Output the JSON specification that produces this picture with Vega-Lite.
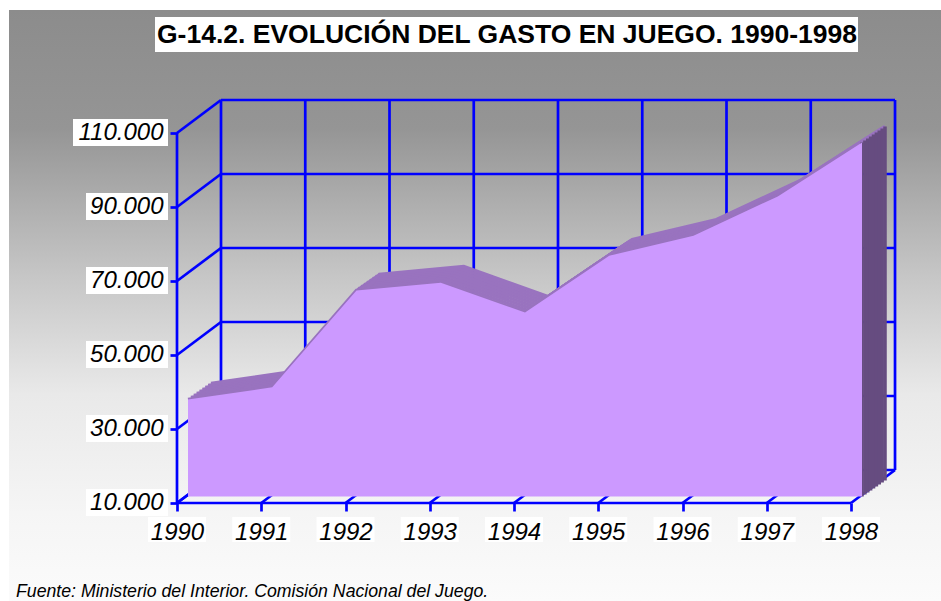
{
  "$schema": "https://vega.github.io/schema/vega-lite/v6.json",
  "width": 932,
  "height": 591,
  "autosize": {"type": "none"},
  "padding": {"left": 9, "top": 10, "right": 0, "bottom": 0},
  "background": "#ffffff",
  "view": {
    "stroke": null,
    "fill": {
      "gradient": "linear", "x1": 0, "y1": 0, "x2": 0, "y2": 1,
      "stops": [
        {"offset": 0, "color": "#8c8c8c"},
        {"offset": 0.2, "color": "#959595"},
        {"offset": 0.45, "color": "#c6c6c6"},
        {"offset": 0.65, "color": "#e9e9e9"},
        {"offset": 0.85, "color": "#f5f5f5"},
        {"offset": 1, "color": "#fbfbfb"}
      ]
    }
  },
  "datasets": {
    "vals": [
      {"year": 1990, "gasto": 36200},
      {"year": 1991, "gasto": 39500},
      {"year": 1992, "gasto": 65700},
      {"year": 1993, "gasto": 67800},
      {"year": 1994, "gasto": 59700},
      {"year": 1995, "gasto": 75100},
      {"year": 1996, "gasto": 80500},
      {"year": 1997, "gasto": 91100},
      {"year": 1998, "gasto": 105700}
    ],
    "ticks": [
      {"v": 10000}, {"v": 30000}, {"v": 50000}, {"v": 70000}, {"v": 90000}, {"v": 110000}
    ],
    "one": [{"k": 1}]
  },
  "data": {"name": "vals"},
  "layer": [
    {
      "data": {"name": "ticks"},
      "mark": {"type": "rule", "color": "#0000ff", "strokeWidth": 2.7, "xOffset": 44, "x2Offset": 44, "yOffset": -33, "y2Offset": -33},
      "encoding": {
        "x": {"datum": 1990, "type": "quantitative"}, "x2": {"datum": 1998},
        "y": {"field": "v", "type": "quantitative"}, "y2": {"field": "v"}
      }
    },
    {
      "mark": {"type": "rule", "color": "#0000ff", "strokeWidth": 2.7, "xOffset": 44, "x2Offset": 44, "yOffset": -33, "y2Offset": -33},
      "encoding": {
        "x": {"field": "year", "type": "quantitative"}, "x2": {"field": "year"},
        "y": {"datum": 10000, "type": "quantitative"}, "y2": {"datum": 110000}
      }
    },
    {
      "data": {"name": "ticks"},
      "mark": {"type": "rule", "color": "#0000ff", "strokeWidth": 2.7, "x2Offset": 44, "y2Offset": -33},
      "encoding": {
        "x": {"datum": 1990, "type": "quantitative"}, "x2": {"datum": 1990},
        "y": {"field": "v", "type": "quantitative"}, "y2": {"field": "v"}
      }
    },
    {
      "mark": {"type": "rule", "color": "#0000ff", "strokeWidth": 2.7, "x2Offset": 44, "y2Offset": -33},
      "encoding": {
        "x": {"field": "year", "type": "quantitative"}, "x2": {"field": "year"},
        "y": {"datum": 10000, "type": "quantitative"}, "y2": {"datum": 10000}
      }
    },
    {
      "encoding": {
        "x": {
          "field": "year", "type": "quantitative",
          "scale": {"domain": [1988.006, 1999.068], "nice": false, "zero": false},
          "axis": {
            "orient": "bottom", "offset": -98, "title": null,
            "values": [1990, 1991, 1992, 1993, 1994, 1995, 1996, 1997, 1998],
            "format": "d", "domain": false, "grid": false,
            "tickColor": "#0000ff", "tickWidth": 2.7, "tickSize": 8,
            "labelFont": "Liberation Sans", "labelFontStyle": "italic", "labelFontSize": 24,
            "labelColor": "#000000", "labelPadding": 9,
            "labelFlush": false, "labelOverlap": false, "labelBound": false, "zindex": 1
          }
        },
        "y": {
          "field": "gasto", "type": "quantitative",
          "scale": {"domain": [-16487, 143243], "nice": false, "zero": false},
          "axis": {
            "orient": "left", "offset": -168, "title": null,
            "values": [10000, 30000, 50000, 70000, 90000, 110000],
            "labelExpr": "replace(format(datum.value, ','), ',', '.')",
            "domain": false, "grid": false,
            "tickColor": "#0000ff", "tickWidth": 2.7, "tickSize": 7,
            "labelFont": "Liberation Sans", "labelFontStyle": "italic", "labelFontSize": 24,
            "labelColor": "#000000", "labelPadding": 7,
            "labelFlush": false, "labelOverlap": false, "labelBound": false, "zindex": 1
          }
        }
      },
      "layer": [
        {"mark": {"type": "line", "color": "#9973bf", "strokeWidth": 3.5, "xOffset": 11, "yOffset": -6.5}},
        {"mark": {"type": "line", "color": "#9973bf", "strokeWidth": 3.5, "xOffset": 13.875, "yOffset": -8.5}},
        {"mark": {"type": "line", "color": "#9973bf", "strokeWidth": 3.5, "xOffset": 16.75, "yOffset": -10.5}},
        {"mark": {"type": "line", "color": "#9973bf", "strokeWidth": 3.5, "xOffset": 19.625, "yOffset": -12.5}},
        {"mark": {"type": "line", "color": "#9973bf", "strokeWidth": 3.5, "xOffset": 22.5, "yOffset": -14.5}},
        {"mark": {"type": "line", "color": "#9973bf", "strokeWidth": 3.5, "xOffset": 25.375, "yOffset": -16.5}},
        {"mark": {"type": "line", "color": "#9973bf", "strokeWidth": 3.5, "xOffset": 28.25, "yOffset": -18.5}},
        {"mark": {"type": "line", "color": "#9973bf", "strokeWidth": 3.5, "xOffset": 31.125, "yOffset": -20.5}},
        {"mark": {"type": "line", "color": "#9973bf", "strokeWidth": 3.5, "xOffset": 34, "yOffset": -22.5}},
        {"transform": [{"filter": "datum.year == 1998"}], "mark": {"type": "rule", "color": "#664c80", "strokeWidth": 3.5, "xOffset": 11, "yOffset": -6.5, "y2Offset": -6.5}, "encoding": {"y2": {"datum": 10000}}},
        {"transform": [{"filter": "datum.year == 1998"}], "mark": {"type": "rule", "color": "#664c80", "strokeWidth": 3.5, "xOffset": 13.875, "yOffset": -8.5, "y2Offset": -8.5}, "encoding": {"y2": {"datum": 10000}}},
        {"transform": [{"filter": "datum.year == 1998"}], "mark": {"type": "rule", "color": "#664c80", "strokeWidth": 3.5, "xOffset": 16.75, "yOffset": -10.5, "y2Offset": -10.5}, "encoding": {"y2": {"datum": 10000}}},
        {"transform": [{"filter": "datum.year == 1998"}], "mark": {"type": "rule", "color": "#664c80", "strokeWidth": 3.5, "xOffset": 19.625, "yOffset": -12.5, "y2Offset": -12.5}, "encoding": {"y2": {"datum": 10000}}},
        {"transform": [{"filter": "datum.year == 1998"}], "mark": {"type": "rule", "color": "#664c80", "strokeWidth": 3.5, "xOffset": 22.5, "yOffset": -14.5, "y2Offset": -14.5}, "encoding": {"y2": {"datum": 10000}}},
        {"transform": [{"filter": "datum.year == 1998"}], "mark": {"type": "rule", "color": "#664c80", "strokeWidth": 3.5, "xOffset": 25.375, "yOffset": -16.5, "y2Offset": -16.5}, "encoding": {"y2": {"datum": 10000}}},
        {"transform": [{"filter": "datum.year == 1998"}], "mark": {"type": "rule", "color": "#664c80", "strokeWidth": 3.5, "xOffset": 28.25, "yOffset": -18.5, "y2Offset": -18.5}, "encoding": {"y2": {"datum": 10000}}},
        {"transform": [{"filter": "datum.year == 1998"}], "mark": {"type": "rule", "color": "#664c80", "strokeWidth": 3.5, "xOffset": 31.125, "yOffset": -20.5, "y2Offset": -20.5}, "encoding": {"y2": {"datum": 10000}}},
        {"transform": [{"filter": "datum.year == 1998"}], "mark": {"type": "rule", "color": "#664c80", "strokeWidth": 3.5, "xOffset": 34, "yOffset": -22.5, "y2Offset": -22.5}, "encoding": {"y2": {"datum": 10000}}},
        {"mark": {"type": "area", "color": "#cc99ff", "xOffset": 11, "yOffset": -6.5, "y2Offset": -6.5}, "encoding": {"y2": {"datum": 10000}}}
      ]
    },
    {
      "data": {"name": "one"},
      "mark": {"type": "rule", "color": "#0000ff", "strokeWidth": 2.7},
      "encoding": {
        "x": {"datum": 1990, "type": "quantitative"}, "x2": {"datum": 1998},
        "y": {"datum": 10000, "type": "quantitative"}, "y2": {"datum": 10000}
      }
    },
    {
      "data": {"name": "one"},
      "mark": {"type": "rule", "color": "#0000ff", "strokeWidth": 2.7},
      "encoding": {
        "x": {"datum": 1990, "type": "quantitative"}, "x2": {"datum": 1990},
        "y": {"datum": 10000, "type": "quantitative"}, "y2": {"datum": 110000}
      }
    },
    {
      "data": {"name": "ticks"},
      "transform": [{"filter": "datum.v < 110000"}],
      "mark": {"type": "rect", "color": "#ffffff", "xOffset": -91, "x2Offset": -9, "yOffset": -14, "y2Offset": 13},
      "encoding": {
        "x": {"datum": 1990, "type": "quantitative"}, "x2": {"datum": 1990},
        "y": {"field": "v", "type": "quantitative"}, "y2": {"field": "v"}
      }
    },
    {
      "data": {"name": "ticks"},
      "transform": [{"filter": "datum.v == 110000"}],
      "mark": {"type": "rect", "color": "#ffffff", "xOffset": -104, "x2Offset": -9, "yOffset": -14, "y2Offset": 13},
      "encoding": {
        "x": {"datum": 1990, "type": "quantitative"}, "x2": {"datum": 1990},
        "y": {"field": "v", "type": "quantitative"}, "y2": {"field": "v"}
      }
    },
    {
      "mark": {"type": "rect", "color": "#ffffff", "xOffset": -29, "x2Offset": 29, "yOffset": 14, "y2Offset": 39},
      "encoding": {
        "x": {"field": "year", "type": "quantitative"}, "x2": {"field": "year"},
        "y": {"datum": 10000, "type": "quantitative"}, "y2": {"datum": 10000}
      }
    },
    {
      "data": {"name": "one"},
      "mark": {"type": "rect", "color": "#ffffff", "xOffset": -22, "x2Offset": 7, "yOffset": -116, "y2Offset": -81},
      "encoding": {
        "x": {"datum": 1990, "type": "quantitative"}, "x2": {"datum": 1998},
        "y": {"datum": 110000, "type": "quantitative"}, "y2": {"datum": 110000}
      }
    },
    {
      "data": {"name": "one"},
      "mark": {"type": "text", "text": "G-14.2. EVOLUCIÓN DEL GASTO EN JUEGO. 1990-1998",
               "align": "left", "baseline": "alphabetic", "font": "Liberation Sans", "fontWeight": "bold",
               "fontSize": 26.5, "color": "#000000", "xOffset": -20, "yOffset": -90},
      "encoding": {"x": {"datum": 1990, "type": "quantitative"}, "y": {"datum": 110000, "type": "quantitative"}}
    },
    {
      "data": {"name": "one"},
      "mark": {"type": "text", "text": "Fuente: Ministerio del Interior. Comisión Nacional del Juego.",
               "align": "left", "baseline": "alphabetic", "font": "Liberation Sans", "fontStyle": "italic",
               "fontSize": 17.7, "color": "#000000", "xOffset": -161, "yOffset": 94},
      "encoding": {"x": {"datum": 1990, "type": "quantitative"}, "y": {"datum": 10000, "type": "quantitative"}}
    }
  ]
}
